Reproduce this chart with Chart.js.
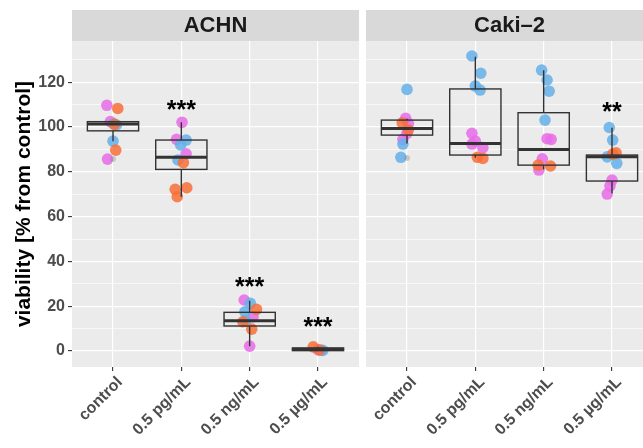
<!DOCTYPE html>
<html>
<head>
<meta charset="utf-8">
<script src="https://cdn.jsdelivr.net/npm/chart.js@4.4.0/dist/chart.umd.min.js"></script>
<style>
  html, body { margin: 0; padding: 0; background: #fff; }
  #wrap { position: relative; width: 643px; height: 448px; overflow: hidden; }
  #painelA { position: absolute; left: 0; top: 0; }
  #painelB { position: absolute; left: 366px; top: 0; }
</style>
</head>
<body>
<div id="wrap">
  <canvas id="painelA" width="359" height="448"></canvas>
  <canvas id="painelB" width="287" height="448"></canvas>
</div>
<script>
// Categorias e eixos
const categorias = ['control', '0.5 pg/mL', '0.5 ng/mL', '0.5 µg/mL'];
const ticksY = [0, 20, 40, 60, 80, 100, 120];
const gradeY = [0, 10, 20, 30, 40, 50, 60, 70, 80, 90, 100, 110, 120, 130];
const limiteY = [-7.1, 138.4];
const limiteX = [-0.6, 3.6];

// ACHN - pontos [categoria + jitter, viabilidade]
const achnLaranja = [[0.07, 108.3], [0.04, 89.7], [0.02, 101.2], [1.03, 84.1], [0.91, 72.2], [1.08, 72.9], [0.94, 68.9],
  [2.10, 18.6], [1.90, 13.1], [2.03, 9.8], [2.93, 1.9], [3.02, 0.5]];
const achnRosa = [[-0.09, 109.7], [-0.04, 102.4], [-0.08, 85.7], [1.01, 102.1], [0.93, 94.5], [1.07, 88.0],
  [1.92, 22.8], [2.05, 15.3], [2.00, 2.2], [3.00, 0.6], [3.04, 0.4]];
const achnAzul = [[0.05, 100.9], [0.00, 93.7], [0.01, 101.5], [1.07, 94.2], [0.95, 85.3], [0.99, 92.0],
  [2.01, 21.3], [1.93, 17.5], [1.94, 13.5], [3.07, 0.3]];
const achnOutliers = [[0, 85.7]];

// ACHN - boxplot
const achnMin = [93.7, 68.9, 2.2, 0.0];
const achnQ1 = [98.3, 81.1, 11.2, 0.2];
const achnMediana = [101.3, 86.5, 13.5, 0.8];
const achnQ3 = [102.4, 94.2, 17.3, 1.4];
const achnMax = [102.6, 102.1, 22.5, 1.9];
const achnSignif = ['', '***', '***', '***'];
const achnPosSignif = [null, 110, 31, 13.2];

// Caki-2 - pontos
const cakiLaranja = [[-0.07, 101.9], [0.02, 98.7], [1.03, 86.5], [1.11, 86.0], [1.92, 83.0], [2.10, 82.6],
  [3.01, 87.9], [3.06, 88.5]];
const cakiRosa = [[-0.02, 103.9], [0.02, 101.6], [0.00, 97.2], [-0.06, 94.5], [0.95, 97.2], [1.00, 93.7],
  [0.95, 92.4], [1.11, 90.8], [2.05, 94.8], [2.11, 94.5], [1.98, 85.8], [1.93, 80.8], [3.00, 76.3], [2.97, 73.7], [2.93, 70.1]];
const cakiAzul = [[0.00, 116.8], [-0.06, 92.4], [-0.09, 86.5], [0.95, 131.7], [1.08, 124.0], [1.00, 118.3], [1.07, 116.5],
  [1.97, 125.4], [2.05, 121.0], [2.08, 116.0], [2.02, 103.1], [2.96, 99.8], [3.01, 94.2], [2.93, 86.7], [3.07, 83.8]];
const cakiOutliers = [[0, 86.2]];

// Caki-2 - boxplot
const cakiMin = [92.7, 86.3, 81.1, 70.4];
const cakiQ1 = [96.4, 87.5, 83.0, 75.9];
const cakiMediana = [99.4, 92.7, 90.0, 86.7];
const cakiQ3 = [103.1, 117.0, 106.4, 87.5];
const cakiMax = [103.7, 131.4, 125.4, 99.7];
const cakiSignif = ['', '', '', '**'];
const cakiPosSignif = [null, null, null, 109];

const FONTE = "'Liberation Sans', Arial, Helvetica, sans-serif";

function paraXY(lista) {
  return lista.map(p => ({ x: p[0], y: p[1] }));
}

// Plugin: fundo cinza, faixa do título (strip), caixas e asteriscos
const pluginPainel = {
  id: 'painel',
  beforeDraw(chart) {
    const ctx = chart.ctx;
    const a = chart.chartArea;
    const o = chart.options.plugins.painel;
    ctx.save();
    ctx.fillStyle = '#ffffff';
    ctx.fillRect(0, 0, chart.width, chart.height);
    ctx.fillStyle = '#ebebeb';
    ctx.fillRect(a.left, a.top, a.right - a.left, a.bottom - a.top);
    ctx.fillStyle = '#d9d9d9';
    ctx.fillRect(a.left, a.top - 31, a.right - a.left, 31);
    ctx.fillStyle = '#1a1a1a';
    ctx.font = 'bold 22px ' + FONTE;
    ctx.textAlign = 'center';
    ctx.textBaseline = 'middle';
    ctx.fillText(o.titulo, (a.left + a.right) / 2, a.top - 15);
    ctx.restore();
  },
  afterDatasetsDraw(chart) {
    const ctx = chart.ctx;
    const x = chart.scales.x;
    const y = chart.scales.y;
    const o = chart.options.plugins.painel;
    const meia = 0.375;
    ctx.save();
    ctx.strokeStyle = '#333333';
    categorias.forEach((c, i) => {
      const xc = x.getPixelForValue(i);
      const xl = x.getPixelForValue(i - meia);
      const xr = x.getPixelForValue(i + meia);
      // bigodes
      ctx.lineWidth = 1.4;
      ctx.beginPath();
      ctx.moveTo(xc, y.getPixelForValue(o.q3[i]));
      ctx.lineTo(xc, y.getPixelForValue(o.max[i]));
      ctx.moveTo(xc, y.getPixelForValue(o.q1[i]));
      ctx.lineTo(xc, y.getPixelForValue(o.min[i]));
      ctx.stroke();
      // caixa
      const yt = y.getPixelForValue(o.q3[i]);
      const yb = y.getPixelForValue(o.q1[i]);
      ctx.strokeRect(xl, yt, xr - xl, yb - yt);
      // mediana
      ctx.lineWidth = 3;
      ctx.beginPath();
      ctx.moveTo(xl, y.getPixelForValue(o.mediana[i]));
      ctx.lineTo(xr, y.getPixelForValue(o.mediana[i]));
      ctx.stroke();
      // asteriscos
      if (o.signif[i]) {
        ctx.fillStyle = '#000000';
        ctx.font = 'bold 25px ' + FONTE;
        ctx.textAlign = 'center';
        ctx.textBaseline = 'alphabetic';
        ctx.fillText(o.signif[i], xc, y.getPixelForValue(o.posSignif[i]) + 13);
      }
    });
    ctx.restore();
  }
};

function criarPainel(id, titulo, laranja, rosa, azul, outliers, caixa, mostrarY) {
  const ctx = document.getElementById(id).getContext('2d');
  return new Chart(ctx, {
    type: 'scatter',
    data: {
      datasets: [
        { data: paraXY(outliers), backgroundColor: 'rgba(130,130,130,0.35)', pointRadius: 3 },
        { data: paraXY(laranja), backgroundColor: 'rgba(248,110,55,0.85)', pointRadius: 5.8 },
        { data: paraXY(azul), backgroundColor: 'rgba(100,176,234,0.85)', pointRadius: 5.8 },
        { data: paraXY(rosa), backgroundColor: 'rgba(232,108,232,0.85)', pointRadius: 5.8 }
      ]
    },
    options: {
      responsive: false,
      animation: false,
      layout: { autoPadding: false, padding: { top: 41, left: 0, right: 0, bottom: 0 } },
      elements: { point: { borderWidth: 0, hoverRadius: 5.8 } },
      plugins: {
        legend: { display: false },
        tooltip: { enabled: false },
        painel: Object.assign({ titulo: titulo }, caixa)
      },
      scales: {
        x: {
          type: 'linear',
          min: limiteX[0],
          max: limiteX[1],
          afterBuildTicks: s => { s.ticks = categorias.map((c, i) => ({ value: i })); },
          afterFit: s => { s.height = 81; s.paddingLeft = 0; s.paddingRight = 0; },
          border: { display: false },
          grid: { color: '#ffffff', lineWidth: 1.2, tickLength: 4, tickColor: '#333333', tickWidth: 1.1 },
          ticks: {
            autoSkip: false,
            maxRotation: 45,
            minRotation: 45,
            padding: 2,
            labelOffset: 7,
            color: '#4d4d4d',
            font: { family: FONTE, size: 16, weight: 'bold' },
            callback: v => categorias[v]
          }
        },
        y: {
          min: limiteY[0],
          max: limiteY[1],
          afterBuildTicks: s => { s.ticks = gradeY.map(v => ({ value: v })); },
          afterFit: s => { s.width = mostrarY ? 72 : 0; s.paddingTop = 0; s.paddingBottom = 0; },
          border: { display: false },
          grid: {
            color: '#ffffff',
            drawTicks: mostrarY,
            lineWidth: c => (ticksY.includes(c.tick.value) ? 1.2 : 0.6),
            tickLength: 4,
            tickWidth: 1.1,
            tickColor: c => (ticksY.includes(c.tick.value) ? '#333333' : 'rgba(0,0,0,0)')
          },
          ticks: {
            display: mostrarY,
            padding: 3,
            color: '#4d4d4d',
            font: { family: FONTE, size: 16, weight: 'bold' },
            callback: v => (ticksY.includes(v) ? String(v) : '')
          },
          title: {
            display: mostrarY,
            text: 'viability [% from control]',
            color: '#000000',
            font: { family: FONTE, size: 21, weight: 'bold' },
            padding: { top: 12, bottom: 0 }
          }
        }
      }
    },
    plugins: [pluginPainel]
  });
}

criarPainel('painelA', 'ACHN', achnLaranja, achnRosa, achnAzul, achnOutliers,
  { min: achnMin, q1: achnQ1, mediana: achnMediana, q3: achnQ3, max: achnMax, signif: achnSignif, posSignif: achnPosSignif }, true);
criarPainel('painelB', 'Caki\u20132', cakiLaranja, cakiRosa, cakiAzul, cakiOutliers,
  { min: cakiMin, q1: cakiQ1, mediana: cakiMediana, q3: cakiQ3, max: cakiMax, signif: cakiSignif, posSignif: cakiPosSignif }, false);
</script>
</body>
</html>
